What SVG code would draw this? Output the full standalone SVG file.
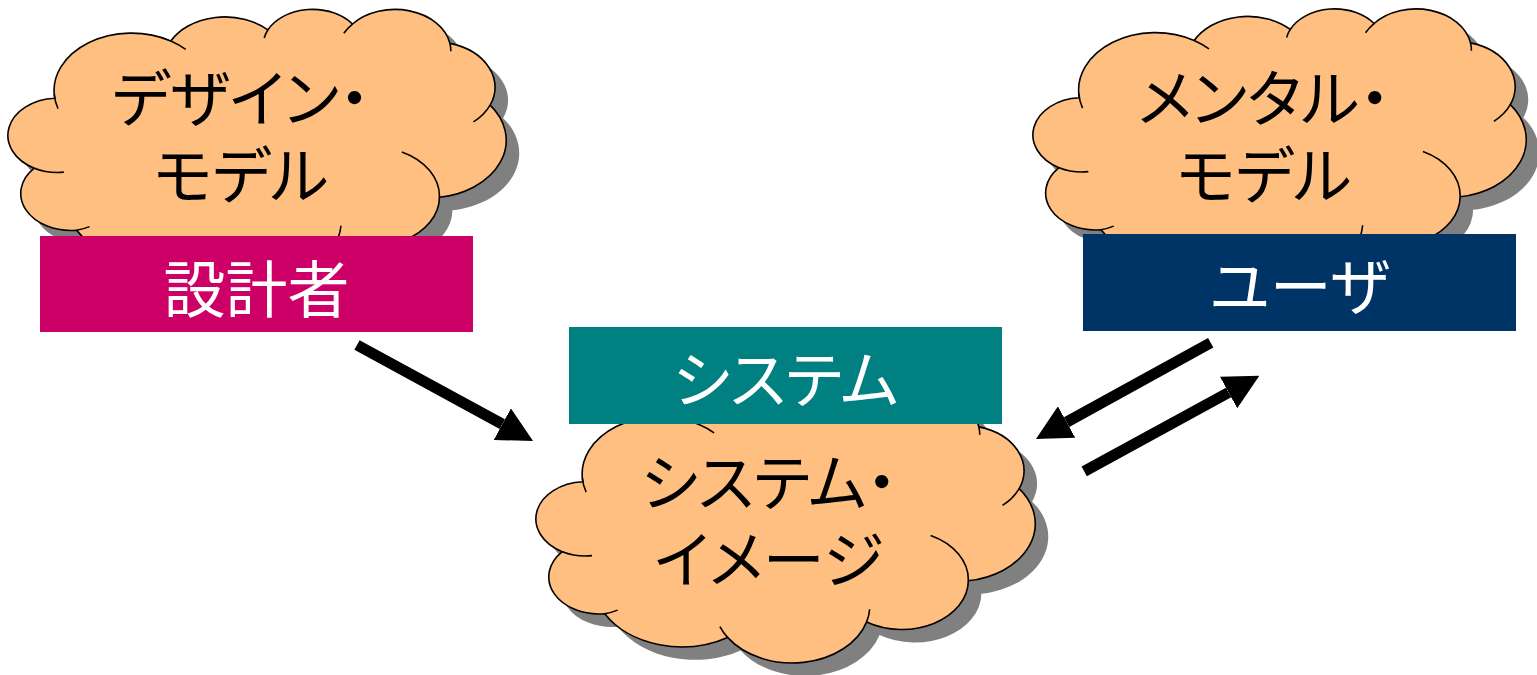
<svg xmlns="http://www.w3.org/2000/svg" xmlns:xlink="http://www.w3.org/1999/xlink" width="1537" height="675" viewBox="0 0 1537 675">
  <style>
    .shadow { fill: #808080; stroke: none; }
    .cloud { fill: #FFBF80; stroke: #000000; stroke-width: 1.6; }
    .cloud-lines { fill: none; stroke: #000000; stroke-width: 1.6; }
    .txt { font-family: "Noto Sans CJK JP", "Noto Sans", sans-serif; font-size: 62px; text-anchor: middle; font-feature-settings: "palt"; }
    .dark { fill: #000000; }
    .light { fill: #FFFFFF; }
    .arrow { stroke: #000000; stroke-width: 11; fill: none; marker-end: url(#head); }
  </style>
  <defs>
    <!-- cloud outline in a 43200 x 43200 design space -->
    <path id="cloud-shape" vector-effect="non-scaling-stroke" d="M3900 14370 A6753 9190 0 0 1 14005 5202 A5333 7267 0 0 1 22456 3432 A4365 5945 0 0 1 29833 2481 A4857 6595 0 0 1 38318 5577 A5333 7273 0 0 1 41819 15461 A6775 9220 0 0 1 37405 30204 A5785 7867 0 0 1 28557 36814 A6752 9215 0 0 1 16481 39265 A7720 10543 0 0 1 5805 35471 A4360 5918 0 0 1 2114 25549 A4345 5945 0 0 1 3900 14370 Z"/>
    <!-- short inner arcs where the bumps overlap -->
    <path id="cloud-inner" vector-effect="non-scaling-stroke" d="M4693 26177 A4345 5945 0 0 1 2114 25549 M6928 34899 A4360 5918 0 0 1 5805 35471 M16481 39265 A6752 9215 0 0 1 15813 37525 M28827 34751 A6752 9215 0 0 1 28557 36814 M34129 22954 A5785 7867 0 0 1 37405 30204 M41819 15461 A5333 7273 0 0 1 40371 18137 M38318 5577 A4857 6595 0 0 1 38395 6840 M29078 3952 A4857 6595 0 0 1 29833 2481 M22141 4720 A4365 5945 0 0 1 22456 3432 M14005 5202 A6753 9190 0 0 1 15305 6550 M4184 16032 A6753 9190 0 0 1 3852 13713"/>
    <marker id="head" markerUnits="userSpaceOnUse" viewBox="0 0 35 36" markerWidth="35" markerHeight="36" refX="0" refY="18" orient="auto">
      <path d="M0 0 L35 18 L0 36 Z" fill="#000000"/>
    </marker>
  </defs>

  <!-- design model cloud -->
  <g id="design-model">
    <use xlink:href="#cloud-shape" class="shadow" transform="translate(23,21.5) scale(0.011481,0.00625)"/>
    <use xlink:href="#cloud-shape" class="cloud" transform="translate(10,8.5) scale(0.011481,0.00625)"/>
    <use xlink:href="#cloud-inner" class="cloud-lines" transform="translate(10,8.5) scale(0.011481,0.00625)"/>
    <text class="txt dark"><tspan x="241" y="122">デザイン・</tspan><tspan x="241" y="199">モデル</tspan></text>
  </g>

  <!-- mental model cloud -->
  <g id="mental-model">
    <use xlink:href="#cloud-shape" class="shadow" transform="translate(1048,21) scale(0.011366,0.00625)"/>
    <use xlink:href="#cloud-shape" class="cloud" transform="translate(1035,8) scale(0.011366,0.00625)"/>
    <use xlink:href="#cloud-inner" class="cloud-lines" transform="translate(1035,8) scale(0.011366,0.00625)"/>
    <text class="txt dark"><tspan x="1264" y="122">メンタル・</tspan><tspan x="1264" y="199">モデル</tspan></text>
  </g>

  <!-- system image cloud -->
  <g id="system-image">
    <use xlink:href="#cloud-shape" class="shadow" transform="translate(551,405) scale(0.011505,0.00625)"/>
    <use xlink:href="#cloud-shape" class="cloud" transform="translate(538,392) scale(0.011505,0.00625)"/>
    <use xlink:href="#cloud-inner" class="cloud-lines" transform="translate(538,392) scale(0.011505,0.00625)"/>
    <text class="txt dark"><tspan x="769" y="506">システム・</tspan><tspan x="769" y="583">イメージ</tspan></text>
  </g>

  <!-- role labels -->
  <g id="designer">
    <rect x="40" y="236" width="433" height="96" fill="#CC0066"/>
    <text class="txt light" x="256.5" y="313">設計者</text>
  </g>
  <g id="user">
    <rect x="1083" y="234" width="433" height="97" fill="#003366"/>
    <text class="txt light" x="1299.5" y="310">ユーザ</text>
  </g>
  <g id="system">
    <rect x="569" y="327" width="433" height="97" fill="#008080"/>
    <text class="txt light" x="785.5" y="403">システム</text>
  </g>

  <!-- connectors -->
  <g id="connectors">
    <line class="arrow" x1="357" y1="345" x2="502.3" y2="424.2"/>
    <line class="arrow" x1="1210.7" y1="342.7" x2="1066.6" y2="422.1"/>
    <line class="arrow" x1="1084.2" y1="471.3" x2="1228.6" y2="392.5"/>
  </g>
</svg>
